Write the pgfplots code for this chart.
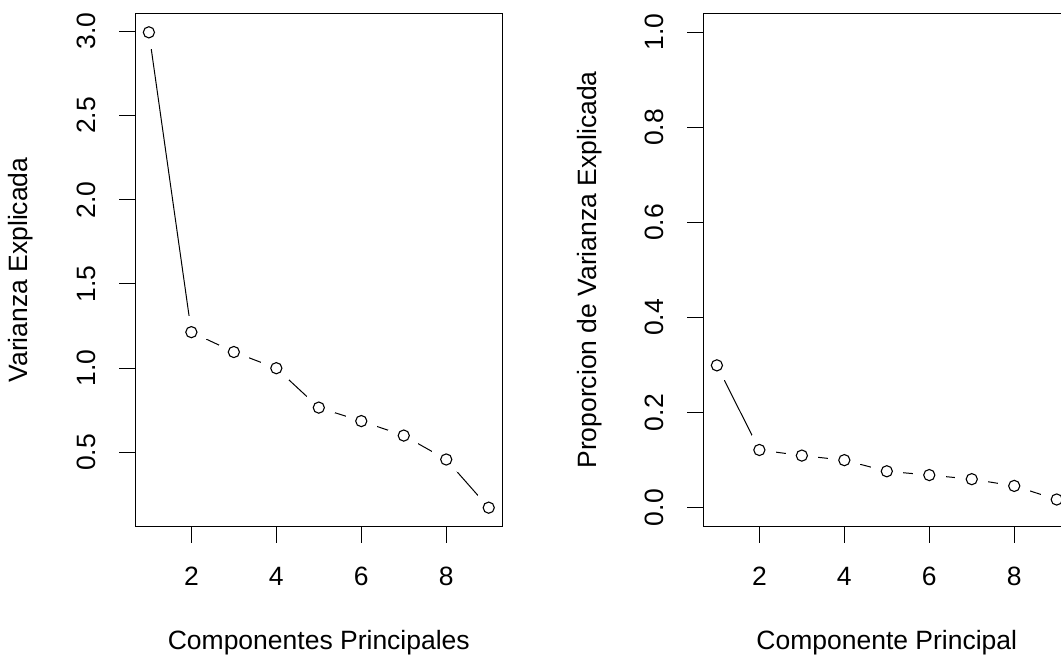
\documentclass[border=0pt]{standalone}
\usepackage{fontspec}
\setmainfont{Liberation Sans}
\usepackage{pgfplots}
\pgfplotsset{compat=1.18}
\pgfplotsset{
  rstyle/.style={
    scale only axis, width=367pt, height=513.4pt, anchor=south west,
    axis on top, clip marker paths=true,
    axis line style={line width=1pt},
    tick style={line width=1pt, black},
    tick align=outside, major tick length=16pt,
    xtick pos=left, ytick pos=left,
    xmin=0.68, xmax=9.32, xtick={2,4,6,8},
    tick label style={font=\fontsize{26.5}{30}\selectfont, inner sep=0pt,
      /pgf/number format/assume math mode=true},
    xticklabel style={anchor=north},
    yticklabel style={rotate=90, anchor=south,
      /pgf/number format/fixed, /pgf/number format/fixed zerofill,
      /pgf/number format/precision=1},
    xticklabel shift=24pt, yticklabel shift=23.5pt,
    label style={font=\fontsize{26.5}{30}\selectfont, inner sep=0pt},
    xlabel style={at={([yshift=-123.3pt]axis description cs:0.5,0)}, anchor=base},
    ylabel style={at={([xshift=-107.3pt]axis description cs:0,0.5)}, anchor=base},
  },
  gapline/.style={black, line width=1pt, mark=none},
  gapdisk/.style={only marks, white, mark=*, mark size=16pt, mark options={fill=white, draw=white, line width=0pt}},
  ptmark/.style={only marks, black, mark=o, mark size=5.6pt, mark options={line width=1.1pt, black}},
}
\pgfplotstableread{
x y
1 2.994
2 1.214
3 1.096
4 1.000
5 0.766
6 0.686
7 0.600
8 0.458
9 0.172
}\vardata
\pgfplotstableread{
x y
1 0.2994
2 0.1214
3 0.1096
4 0.1000
5 0.0766
6 0.0686
7 0.0600
8 0.0458
9 0.0172
}\propdata
\begin{document}
\begin{tikzpicture}
\useasboundingbox (0,0) rectangle (1061pt,658pt);
\begin{axis}[rstyle, at={(135.3pt,131.3pt)},
  ymin=0.059, ymax=3.107, ytick={0.5,1,1.5,2,2.5,3},
  xlabel={Componentes Principales}, ylabel={Varianza Explicada}]
\addplot[gapline] table {\vardata};
\addplot[gapdisk] table {\vardata};
\addplot[ptmark] table {\vardata};
\end{axis}
\begin{axis}[rstyle, at={(703.3pt,131.3pt)},
  ymin=-0.04, ymax=1.04, ytick={0,0.2,0.4,0.6,0.8,1},
  xlabel={Componente Principal}, ylabel={Proporcion de Varianza Explicada}]
\addplot[gapline] table {\propdata};
\addplot[gapdisk] table {\propdata};
\addplot[ptmark] table {\propdata};
\end{axis}
\end{tikzpicture}
\end{document}
